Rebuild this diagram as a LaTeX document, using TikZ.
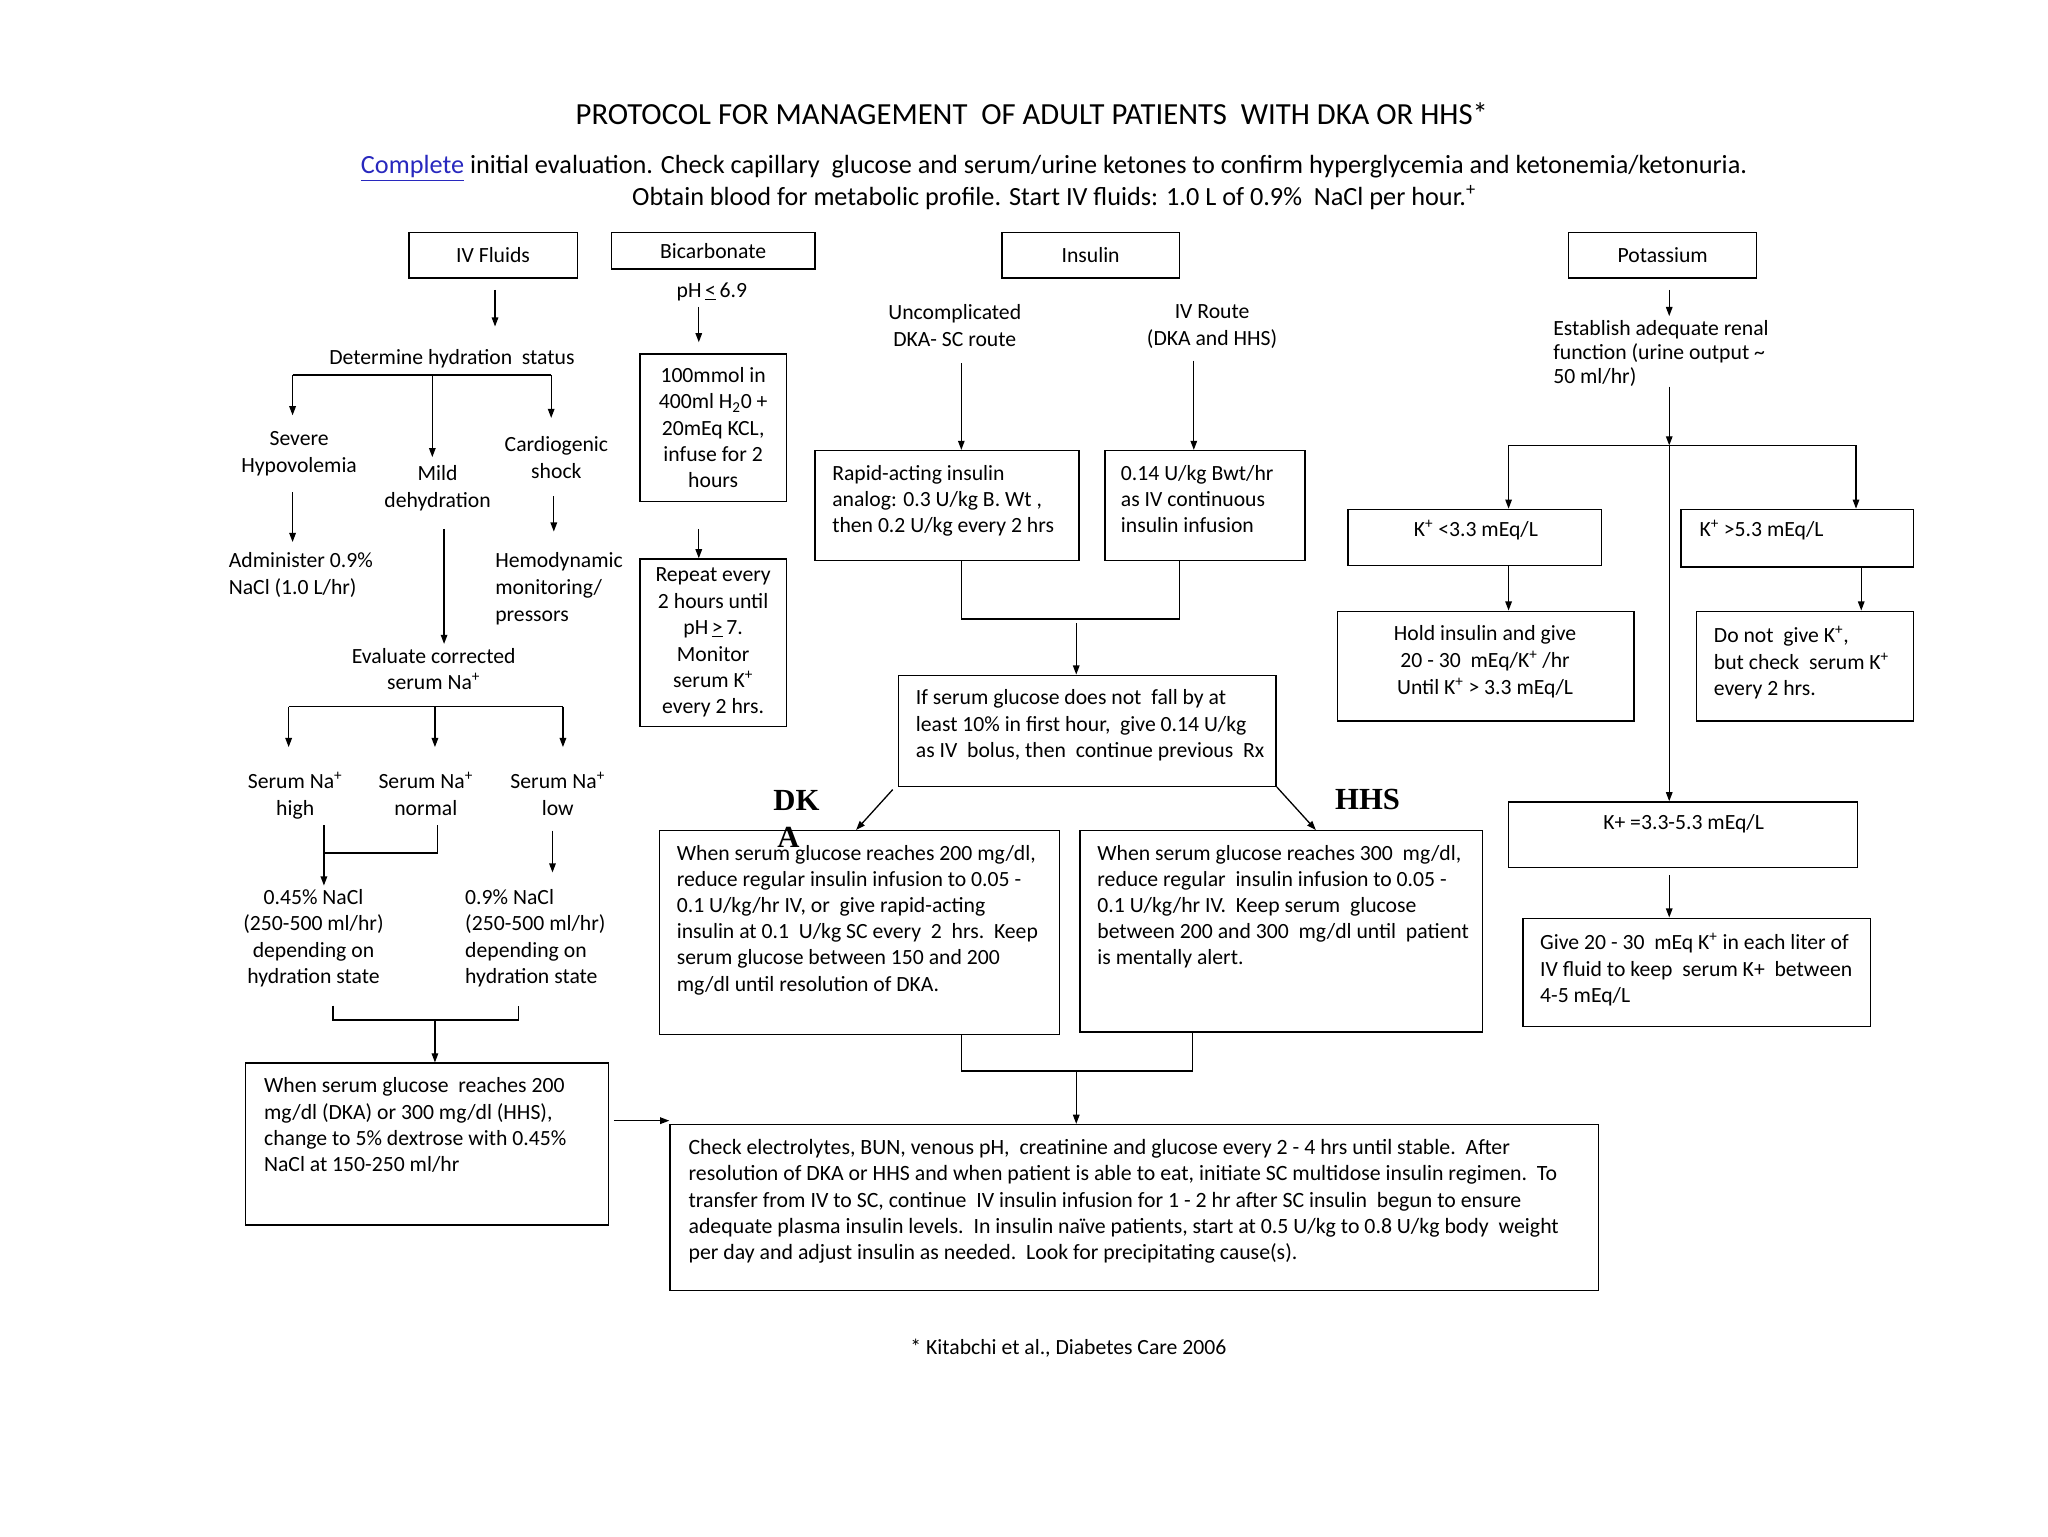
\documentclass[tikz,border=0pt]{standalone}
\usepackage{fontspec}
\setmainfont{Carlito}
\newfontfamily\tnr{Liberation Serif}
\usetikzlibrary{arrows.meta,calc}
\definecolor{linkblue}{RGB}{40,40,190}
\begin{document}
\begin{tikzpicture}[x=1pt,y=-1pt,
  box/.style={draw, line width=1.1pt, inner sep=0pt, font=\fontsize{16.6}{20.2}\selectfont, align=center},
  txt/.style={inner sep=0pt, font=\fontsize{16.6}{20.5}\selectfont},
  arr/.style={line width=1pt, -{Triangle[length=7pt,width=5pt]}},
  ln/.style={line width=1pt}]
\useasboundingbox[fill=white] (0,0) rectangle (1568,1176);

% ---------- title ----------
\node[inner sep=0pt, anchor=base, font=\fontsize{23.5}{28}\selectfont] (title) at (790,95)
  {PROTOCOL FOR MANAGEMENT\ \ OF ADULT PATIENTS\ \ WITH DKA OR HHS*};
\node[inner sep=0pt, anchor=north, align=center, font=\fontsize{20.1}{24.3}\selectfont] (intro) at (807,119)
  {\textcolor{linkblue}{\underline{Complete}} initial evaluation. Check capillary\ \ glucose and serum/urine ketones to confirm hyperglycemia and ketonemia/ketonuria.\\
   Obtain blood for metabolic profile. Start IV fluids: 1.0 L of 0.9\%\ \ NaCl per hour.\textsuperscript{+}};

% ---------- headers ----------
\node[box, minimum width=129, minimum height=35] (ivf) at (377.5,195.5) {IV Fluids};
\node[box, minimum width=156, minimum height=28] (bicarb) at (546,192) {Bicarbonate};
\node[box, minimum width=136, minimum height=35] (insulin) at (835,195.5) {Insulin};
\node[box, minimum width=144, minimum height=35] (potas) at (1273,195.5) {Potassium};

% ---------- IV fluids column ----------
\node[txt, anchor=north] (det) at (346,267) {Determine hydration\ \ status};
\node[txt, anchor=north, align=center] (severe) at (229,330) {Severe\\Hypovolemia};
\node[txt, anchor=north, align=center] (mild) at (335,356) {Mild\\dehydration};
\node[txt, anchor=north, align=center] (cardio) at (426,334) {Cardiogenic\\shock};
\node[txt, anchor=north west, align=left] (admin) at (175,423) {Administer 0.9\%\\NaCl (1.0 L/hr)};
\node[txt, anchor=north west, align=left] (hemo) at (379,423) {Hemodynamic\\monitoring/\\pressors};
\node[txt, anchor=north, align=center] (evalna) at (332,496) {Evaluate corrected\\serum Na\textsuperscript{+}};
\node[txt, anchor=north, align=center] (nahigh) at (226,591) {Serum Na\textsuperscript{+}\\high};
\node[txt, anchor=north, align=center] (nanorm) at (326,591) {Serum Na\textsuperscript{+}\\normal};
\node[txt, anchor=north, align=center] (nalow) at (427,591) {Serum Na\textsuperscript{+}\\low};
\node[txt, anchor=north, align=center, font=\fontsize{16.6}{20}\selectfont] (nacl45) at (240,681)
  {0.45\% NaCl\\(250-500 ml/hr)\\depending on\\hydration state};
\node[txt, anchor=north west, align=left, font=\fontsize{16.6}{20}\selectfont] (nacl9) at (356,681)
  {0.9\% NaCl\\(250-500 ml/hr)\\depending on\\hydration state};
\node[box, minimum width=278, minimum height=124] (dex) at (327,876) {};
\node[txt, anchor=north west, align=left, font=\fontsize{16.6}{20}\selectfont] (dext) at (202,825)
  {When serum glucose\ \ reaches 200\\mg/dl (DKA) or 300 mg/dl (HHS),\\change to 5\% dextrose with 0.45\%\\NaCl at 150-250 ml/hr};

% ---------- bicarbonate column ----------
\node[txt, anchor=base] (ph) at (545,228) {pH\,\underline{<}\,6.9};
\node[box, minimum width=112, minimum height=113] (bic1) at (546,327.5)
  {100mmol in\\400ml H\textsubscript{2}0 +\\20mEq KCL,\\infuse for 2\\hours};
\node[box, minimum width=112, minimum height=128] (bic2) at (546,492)
  {Repeat every\\2 hours until\\pH\,\underline{>}\,7.\\Monitor\\serum K\textsuperscript{+}\\every 2 hrs.};

% ---------- insulin column ----------
\node[txt, anchor=north, align=center] (uncomp) at (731,233) {Uncomplicated\\DKA- SC route};
\node[txt, anchor=north, align=center] (ivroute) at (928,233) {IV Route\\(DKA and HHS)};
\node[box, minimum width=202, minimum height=84] (rapid) at (725,387) {};
\node[txt, anchor=north west, align=left, font=\fontsize{16.6}{20}\selectfont] (rapidt) at (637,356)
  {Rapid-acting insulin\\analog: 0.3 U/kg B. Wt ,\\then 0.2 U/kg every 2 hrs};
\node[box, minimum width=153, minimum height=84] (ivinf) at (922.5,387) {};
\node[txt, anchor=north west, align=left, font=\fontsize{16.6}{20}\selectfont] (ivinft) at (858,356)
  {0.14 U/kg Bwt/hr\\as IV continuous\\insulin infusion};
\node[box, minimum width=289, minimum height=85] (bolus) at (832.5,559.5) {};
\node[txt, anchor=north west, align=left, font=\fontsize{16.6}{20}\selectfont] (bolust) at (701,528)
  {If serum glucose does not\ \ fall by at\\least 10\% in first hour,\ \ give 0.14 U/kg\\as IV\ \ bolus, then\ \ continue previous\ \ Rx};
\node[inner sep=0pt, anchor=north west, align=left, font=\tnr\bfseries\fontsize{23.5}{28}\selectfont] (dkalbl) at (592,605) {DK\\\hspace*{3pt}A};
\node[inner sep=0pt, anchor=base west, font=\tnr\bfseries\fontsize{23.5}{28}\selectfont] (hhslbl) at (1022,620) {HHS};
\node[box, minimum width=306, minimum height=156] (dkabox) at (658,714) {};
\node[txt, anchor=north west, align=left, font=\fontsize{16.6}{20}\selectfont] (dkat) at (518,647)
  {When serum glucose reaches 200 mg/dl,\\reduce regular insulin infusion to 0.05 -\\0.1 U/kg/hr IV, or\ \ give rapid-acting\\insulin at 0.1\ \ U/kg SC every\ \ 2\ \ hrs.\ \ Keep\\serum glucose between 150 and 200\\mg/dl until resolution of DKA.};
\node[box, minimum width=308, minimum height=154] (hhsbox) at (981,713) {};
\node[txt, anchor=north west, align=left, font=\fontsize{16.6}{20}\selectfont] (hhst) at (840,647)
  {When serum glucose reaches 300\ \ mg/dl,\\reduce regular\ \ insulin infusion to 0.05 -\\0.1 U/kg/hr IV.\ \ Keep serum\ \ glucose\\between 200 and 300\ \ mg/dl until\ \ patient\\is mentally alert.};

% ---------- final box ----------
\node[box, minimum width=711, minimum height=127] (final) at (868.5,924.5) {};
\node[inner sep=0pt, anchor=north west, align=left, font=\fontsize{16.7}{20.2}\selectfont] (finalt) at (527,872)
  {Check electrolytes, BUN, venous pH,\ \ creatinine and glucose every 2 - 4 hrs until stable.\ \ After\\
   resolution of DKA or HHS and when patient is able to eat, initiate SC multidose insulin regimen.\ \ To\\
   transfer from IV to SC, continue\ \ IV insulin infusion for 1 - 2 hr after SC insulin\ \ begun to ensure\\
   adequate plasma insulin levels.\ \ In insulin naïve patients, start at 0.5 U/kg to 0.8 U/kg body\ \ weight\\
   per day and adjust insulin as needed.\ \ Look for precipitating cause(s).};
\node[inner sep=0pt, anchor=base, font=\fontsize{16.6}{20}\selectfont] (foot) at (818,1037) {* Kitabchi et al., Diabetes Care 2006};

% ---------- potassium column ----------
\node[txt, anchor=north west, align=left, font=\fontsize{16.6}{18.5}\selectfont] (renal) at (1189,245)
  {Establish adequate renal\\function (urine output \textasciitilde\\50 ml/hr)};
\node[box, minimum width=194, minimum height=43] (klow) at (1129,411.5) {};
\node[txt, anchor=base] (klowt) at (1130,411) {K\textsuperscript{+} <3.3 mEq/L};
\node[box, minimum width=178, minimum height=44] (khigh) at (1376,412) {};
\node[txt, anchor=base west] (khight) at (1301,411) {K\textsuperscript{+} >5.3 mEq/L};
\node[box, minimum width=227, minimum height=84] (hold) at (1137.5,510) {};
\node[txt, anchor=north, align=center] (holdt) at (1137,479)
  {Hold insulin and give\\20 - 30\ \ mEq/K\textsuperscript{+} /hr\\Until K\textsuperscript{+} > 3.3 mEq/L};
\node[box, minimum width=166, minimum height=84] (donot) at (1382,510) {};
\node[txt, anchor=north west, align=left] (donott) at (1312,479)
  {Do not\ \ give K\textsuperscript{+},\\but check\ \ serum K\textsuperscript{+}\\every 2 hrs.};
\node[box, minimum width=267, minimum height=50] (knorm) at (1288.5,639) {};
\node[txt, anchor=base] (knormt) at (1289,635) {K+ =3.3-5.3 mEq/L};
\node[box, minimum width=266, minimum height=83] (give) at (1299,744.5) {};
\node[txt, anchor=north west, align=left] (givet) at (1179,714)
  {Give 20 - 30\ \ mEq K\textsuperscript{+} in each liter of\\IV fluid to keep\ \ serum K+\ \ between\\4-5 mEq/L};

% ================= connectors =================
% IV fluids
\coordinate (ivfa) at (379,222);
\draw[arr] (ivfa) -- ++(0,28);
\coordinate (hydL) at (224,287); \coordinate (hydM) at (331,287); \coordinate (hydR) at (422,287);
\draw[ln] (hydL) -- (hydR);
\draw[arr] (hydL) -- ++(0,31);
\draw[arr] (hydM) -- ++(0,63);
\draw[arr] (hydR) -- ++(0,33);
\coordinate (sevA) at (224,377); \draw[arr] (sevA) -- ++(0,38);
\coordinate (carA) at (424,380); \draw[arr] (carA) -- ++(0,27);
\coordinate (milA) at (340,405); \draw[arr] (milA) -- ++(0,88);
\coordinate (naL) at (221,541); \coordinate (naM) at (333,541); \coordinate (naR) at (431,541);
\draw[ln] (naL) -- (naR);
\draw[arr] (naL) -- ++(0,31);
\draw[arr] (naM) -- ++(0,31);
\draw[arr] (naR) -- ++(0,31);
\coordinate (brA) at (248,632); \coordinate (brB) at (335,632); \coordinate (brAb) at (248,653);
\draw[ln] (brA) -- (brAb) -| (brB);
\draw[arr] (brAb) -- ++(0,25);
\coordinate (lowA) at (423,636); \draw[arr] (lowA) -- ++(0,32);
\coordinate (brC) at (255,770); \coordinate (brD) at (397,770); \coordinate (brE) at (333,781);
\draw[ln] (brC) |- (brE) -| (brD);
\draw[arr] (brE) -- (brE |- dex.north);
\coordinate (dexA) at (470,858);
\draw[arr] (dexA) -- (dexA -| final.west);

% Bicarbonate
\coordinate (bA) at (535,235); \draw[arr] (bA) -- ++(0,27);
\coordinate (bB) at (535,405); \draw[arr] (bB) -- (bB |- bic2.north);

% Insulin
\coordinate (uA) at (736,278); \draw[arr] (uA) -- (uA |- rapid.north);
\coordinate (vA) at (914,276); \draw[arr] (vA) -- (vA |- ivinf.north);
\coordinate (rpJ) at (736,474); \coordinate (ivJ) at (903,474);
\draw[ln] (rapid.south -| rpJ) -- (rpJ) -- (ivJ) -- (ivJ |- ivinf.south);
\coordinate (insJ) at (824,477); \draw[arr] (insJ) -- (insJ |- bolus.north);
\draw[arr] ($(bolus.south west)+(-4,2)$) -- ($(dkabox.north west)+(151,0)$);
\draw[arr] (bolus.south east) -- ($(hhsbox.north west)+(181,0)$);
\coordinate (dkJ) at (736,820); \coordinate (hhJ) at (913,820); \coordinate (botJ) at (824,820);
\draw[ln] (dkabox.south -| dkJ) -- (dkJ) -- (hhJ) -- (hhJ |- hhsbox.south);
\draw[arr] (botJ) -- (botJ |- final.north);

% Potassium
\coordinate (pA) at (1278,222); \draw[arr] (pA) -- ++(0,20);
\coordinate (pB) at (1278,296); \coordinate (pJ) at (1278,341);
\draw[arr] (pB) -- (pJ);
\coordinate (pL) at (1155,341); \coordinate (pR) at (1421,341);
\draw[ln] (pL) -- (pR);
\draw[arr] (pL) -- (pL |- klow.north);
\draw[arr] (pR) -- (pR |- khigh.north);
\draw[arr] (pJ) -- (pJ |- knorm.north);
\draw[arr] (klow.south -| pL) -- (hold.north -| pL);
\coordinate (kh) at (1425,436);
\draw[arr] (khigh.south -| kh) -- (donot.north -| kh);
\coordinate (kn) at (1278,670);
\draw[arr] (kn) -- (kn |- give.north);
\end{tikzpicture}
\end{document}
